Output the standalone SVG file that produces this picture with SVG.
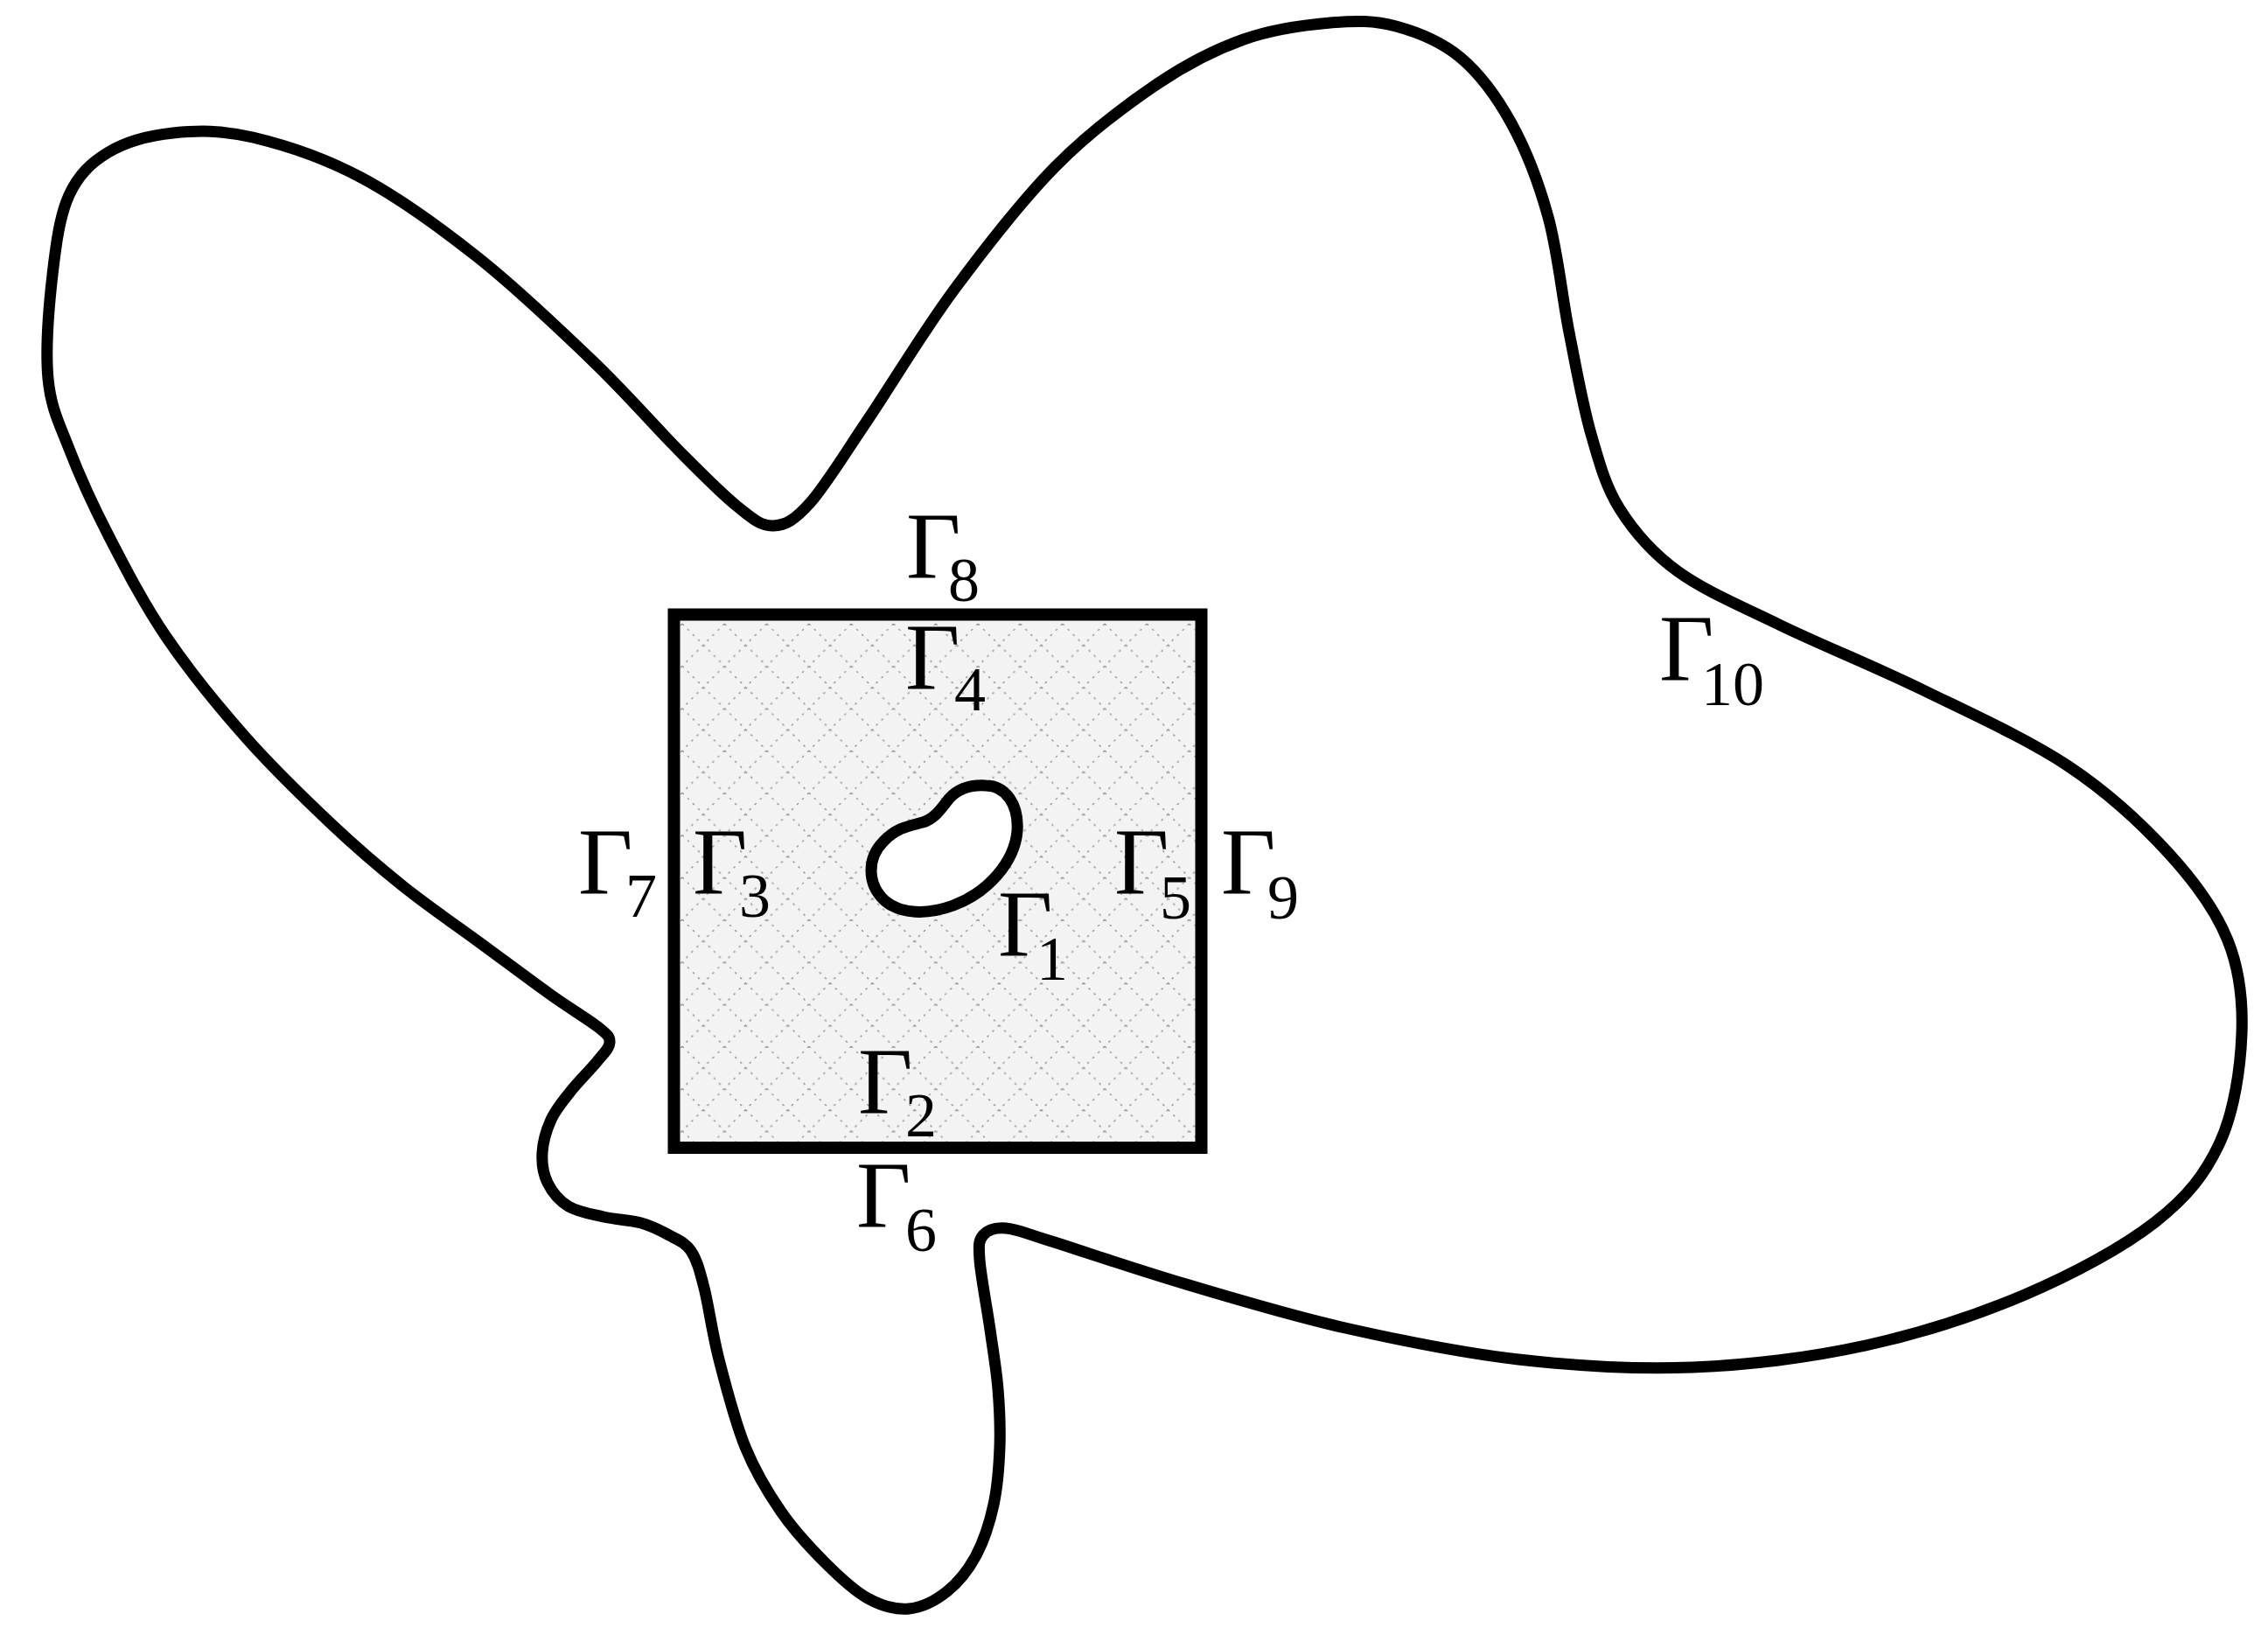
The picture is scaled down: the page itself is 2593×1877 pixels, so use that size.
<svg xmlns="http://www.w3.org/2000/svg" width="2593" height="1877" viewBox="0 0 2593 1877">
<style>
.ln{fill:none;stroke:#000;stroke-width:13;stroke-linejoin:round}
.g{font-family:"Liberation Serif","Times New Roman",serif;font-size:108px;fill:#000}
.s{font-family:"Liberation Serif","Times New Roman",serif;font-size:72px;fill:#000}
</style>
<defs>
<pattern id="hatch" patternUnits="userSpaceOnUse" x="780" y="713" width="48.3" height="48.3">
<rect width="48.3" height="48.3" fill="#f3f3f3"/>
<path d="M0,0L48.3,48.3M48.3,0L0,48.3" stroke="#888" stroke-width="1.3" stroke-dasharray="2.5 6" fill="none"/>
</pattern>
</defs>
<rect width="2593" height="1877" fill="#fff"/>
<g id="outer-boundary">
<path class="ln" d="M55,433 C51.8,399.8 56,349 60,314 C64,279 68.3,246.3 79,223 C89.7,199.7 104.2,185.8 124,174 C143.8,162.2 170.5,154.8 198,152 C225.5,149.2 253.2,148.5 289,157 C324.8,165.5 370.2,180.2 413,203 C455.8,225.8 501.8,259 546,294 C590.2,329 639.5,376 678,413 C716.5,450 749.5,488.3 777,516 C804.5,543.7 825.2,564.8 843,579 C860.8,593.2 870.2,601.7 884,601 C897.8,600.3 908,595.2 926,575 C944,554.8 964.5,520.7 992,480 C1019.5,439.3 1055.2,379.3 1091,331 C1126.8,282.7 1168.3,229.2 1207,190 C1245.7,150.8 1287.2,120.2 1323,96 C1358.8,71.8 1389,56.7 1422,45 C1455,33.3 1492,28.5 1521,26 C1550,23.5 1571.2,23.3 1596,30 C1620.8,36.7 1648,47.5 1670,66 C1692,84.5 1711.3,110.7 1728,141 C1744.7,171.3 1759,208.2 1770,248 C1781,287.8 1785.8,338.7 1794,380 C1802.2,421.3 1809.3,462.3 1819,496 C1828.7,529.7 1835.5,555.8 1852,582 C1868.5,608.2 1887.7,631 1918,653 C1948.3,675 1987.2,691.3 2034,714 C2080.8,736.7 2143.8,762 2199,789 C2254.2,816 2318.2,844.8 2365,876 C2411.8,907.2 2449.7,942.8 2480,976 C2510.3,1009.2 2533.2,1040.7 2547,1075 C2560.8,1109.3 2564.5,1143.5 2563,1182 C2561.5,1220.5 2554.5,1270.2 2538,1306 C2521.5,1341.8 2501.2,1368 2464,1397 C2426.8,1426 2370.2,1456.5 2315,1480 C2259.8,1503.5 2196.3,1524.2 2133,1538 C2069.7,1551.8 2001.2,1560.3 1935,1563 C1868.8,1565.7 1802.2,1561.5 1736,1554 C1669.8,1546.5 1601.3,1532.3 1538,1518 C1474.7,1503.7 1412.5,1484.7 1356,1468 C1299.5,1451.3 1233.3,1428.7 1199,1418 C1164.7,1407.3 1162.5,1405 1150,1404 C1137.5,1403 1129,1406 1124,1412 C1119,1418 1118.7,1422 1120,1440 C1121.3,1458 1128.5,1495.3 1132,1520 C1135.5,1544.7 1139.2,1565.7 1141,1588 C1142.8,1610.3 1143.8,1632 1143,1654 C1142.2,1676 1140.5,1699.3 1136,1720 C1131.5,1740.7 1124.8,1761.5 1116,1778 C1107.2,1794.5 1095.8,1808.8 1083,1819 C1070.2,1829.2 1054.2,1837.7 1039,1839 C1023.8,1840.3 1008,1835.8 992,1827 C976,1818.2 959.5,1802.5 943,1786 C926.5,1769.5 908.2,1750 893,1728 C877.8,1706 863.8,1683 852,1654 C840.2,1625 829.8,1584.3 822,1554 C814.2,1523.7 810.3,1492.7 805,1472 C799.7,1451.3 796.7,1440 790,1430 C783.3,1420 774.5,1417.3 765,1412 C755.5,1406.7 745.5,1401.5 733,1398 C720.5,1394.5 703.8,1394.2 690,1391 C676.2,1387.8 660.7,1385.5 650,1379 C639.3,1372.5 631,1362.2 626,1352 C621,1341.8 619.3,1330 620,1318 C620.7,1306 624.7,1291.7 630,1280 C635.3,1268.3 643.2,1259.2 652,1248 C660.8,1236.8 675.5,1222.3 683,1213 C690.5,1203.7 696.7,1198.3 697,1192 C697.3,1185.7 696.5,1184.3 685,1175 C673.5,1165.7 651.3,1152.7 628,1136 C604.7,1119.3 572.7,1095.3 545,1075 C517.3,1054.7 489.5,1036 462,1014 C434.5,992 410.2,971.5 380,943 C349.8,914.5 312.7,878.8 281,843 C249.3,807.2 216.2,766.5 190,728 C163.8,689.5 142.5,647.8 124,612 C105.5,576.2 90.5,542.8 79,513 C67.5,483.2 58.2,466.2 55,433 Z"/>
</g>
<g id="square">
<rect x="770.5" y="702.5" width="603" height="609.5" fill="url(#hatch)" stroke="#000" stroke-width="14"/>
</g>
<g id="bean">
<path class="ln" style="fill:#fff" d="M1127,898 C1150,898 1165,920 1163,950 C1160,985 1130,1020 1090,1035 C1060,1046 1030,1045 1012,1030 C990,1010 992,980 1010,962 C1025,946 1040,944 1055,940 C1068,936 1075,926 1085,913 C1095,902 1110,897 1127,898 Z"/>
</g>
<g id="label-g8"><text class="g" x="1036" y="660">Γ</text><text class="s" x="1084" y="687">8</text></g>
<g id="label-g4"><text class="g" x="1035" y="787">Γ</text><text class="s" x="1091" y="812">4</text></g>
<g id="label-g7"><text class="g" x="661" y="1021">Γ</text><text class="s" x="715" y="1048">7</text></g>
<g id="label-g3"><text class="g" x="792" y="1021">Γ</text><text class="s" x="845" y="1048">3</text></g>
<g id="label-g5"><text class="g" x="1274" y="1021">Γ</text><text class="s" x="1326" y="1050">5</text></g>
<g id="label-g9"><text class="g" x="1396" y="1021">Γ</text><text class="s" x="1449" y="1050">9</text></g>
<g id="label-g2"><text class="g" x="981" y="1272">Γ</text><text class="s" x="1035" y="1299">2</text></g>
<g id="label-g6"><text class="g" x="979" y="1402">Γ</text><text class="s" x="1035" y="1430">6</text></g>
<g id="label-g1"><text class="g" x="1141" y="1092">Γ</text><text class="s" x="1185" y="1120">1</text></g>
<g id="label-g10"><text class="g" x="1897" y="777">Γ</text><text class="s" x="1945" y="806">10</text></g>
</svg>
